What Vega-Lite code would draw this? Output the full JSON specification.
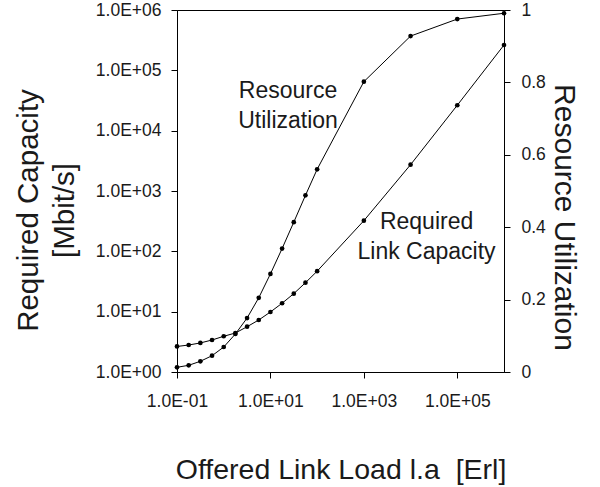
{
  "$schema": "https://vega.github.io/schema/vega-lite/v6.json",
  "width": 327,
  "height": 362,
  "autosize": {"type": "none"},
  "padding": {"left": 177, "top": 10, "right": 96, "bottom": 115},
  "background": "white",
  "config": {
    "view": {"stroke": "black", "strokeWidth": 1},
    "font": "Liberation Sans",
    "axis": {
      "grid": false,
      "domainColor": "black",
      "tickColor": "black",
      "labelColor": "#1a1a1a",
      "titleColor": "#1a1a1a",
      "labelFont": "Liberation Sans",
      "titleFont": "Liberation Sans",
      "labelFontSize": 17.5,
      "titleFontSize": 28.5,
      "titleFontWeight": "normal",
      "domainWidth": 1,
      "tickWidth": 1,
      "tickSize": 6,
      "labelOverlap": false,
      "labelFlush": false
    }
  },
  "datasets": {
    "cap": [
      {"load": 0.1, "capacity": 2.65},
      {"load": 0.1778, "capacity": 2.8},
      {"load": 0.3162, "capacity": 3.03},
      {"load": 0.5623, "capacity": 3.39},
      {"load": 1, "capacity": 3.91},
      {"load": 1.778, "capacity": 4.43},
      {"load": 3.162, "capacity": 5.63},
      {"load": 5.623, "capacity": 7.28},
      {"load": 10, "capacity": 9.88},
      {"load": 17.78, "capacity": 13.8},
      {"load": 31.62, "capacity": 19.9},
      {"load": 56.23, "capacity": 30.2},
      {"load": 100, "capacity": 46.9},
      {"load": 1000, "capacity": 322},
      {"load": 10000, "capacity": 2730},
      {"load": 100000, "capacity": 26400},
      {"load": 1000000, "capacity": 263000}
    ],
    "util": [
      {"load": 0.1, "utilization": 0.013},
      {"load": 0.1778, "utilization": 0.0185},
      {"load": 0.3162, "utilization": 0.0296},
      {"load": 0.5623, "utilization": 0.045},
      {"load": 1, "utilization": 0.069},
      {"load": 1.778, "utilization": 0.105},
      {"load": 3.162, "utilization": 0.149},
      {"load": 5.623, "utilization": 0.205},
      {"load": 10, "utilization": 0.271},
      {"load": 17.78, "utilization": 0.341},
      {"load": 31.62, "utilization": 0.414},
      {"load": 56.23, "utilization": 0.488},
      {"load": 100, "utilization": 0.56},
      {"load": 1000, "utilization": 0.802},
      {"load": 10000, "utilization": 0.928},
      {"load": 100000, "utilization": 0.975},
      {"load": 1000000, "utilization": 0.991}
    ],
    "labels": [
      {"load": 23.8, "utilization": 0.757, "label": "Resource\nUtilization"},
      {"load": 22000, "utilization": 0.395, "label": "Required\nLink Capacity"}
    ]
  },
  "layer": [
    {
      "data": {"name": "cap"},
      "mark": {"type": "line", "color": "black", "strokeWidth": 1, "point": {"filled": true, "size": 22, "color": "black"}},
      "encoding": {
        "x": {
          "field": "load", "type": "quantitative",
          "scale": {"type": "log", "domain": [0.1, 1000000], "nice": false},
          "axis": {
            "values": [0.1, 10, 1000, 100000],
            "labelExpr": "'1.0E' + (datum.value < 1 ? '-' : '+') + '0' + abs(round(log(datum.value) / LN10))",
            "labelPadding": 14,
            "title": "Offered Link Load l.a\u00a0 [Erl]",
            "titleY": 106,
            "titleBaseline": "alphabetic"
          }
        },
        "y": {
          "field": "capacity", "type": "quantitative",
          "scale": {"type": "log", "domain": [1, 1000000], "nice": false},
          "axis": {
            "orient": "left",
            "values": [1, 10, 100, 1000, 10000, 100000, 1000000],
            "labelExpr": "'1.0E+0' + round(log(datum.value) / LN10)",
            "labelPadding": 10,
            "title": ["Required Capacity", "[Mbit/s]"],
            "titleFontSize": 29.5,
            "titleAngle": -90,
            "titleX": -163,
            "titleY": 200,
            "titleBaseline": "top",
            "titleAlign": "center",
            "titleLineHeight": 36
          }
        }
      }
    },
    {
      "data": {"name": "util"},
      "mark": {"type": "line", "color": "black", "strokeWidth": 1, "point": {"filled": true, "size": 22, "color": "black"}},
      "encoding": {
        "x": {"field": "load", "type": "quantitative"},
        "y": {
          "field": "utilization", "type": "quantitative",
          "scale": {"type": "linear", "domain": [0, 1], "nice": false},
          "axis": {
            "orient": "right",
            "values": [0, 0.2, 0.4, 0.6, 0.8, 1],
            "format": "~g",
            "labelPadding": 11,
            "title": "Resource Utilization",
            "titleFontSize": 30,
            "titleAngle": 90,
            "titleX": 74,
            "titleY": 207,
            "titleBaseline": "top",
            "titleAlign": "center"
          }
        }
      }
    },
    {
      "data": {"name": "labels"},
      "mark": {"type": "text", "font": "Liberation Sans", "fontSize": 23, "color": "#1a1a1a", "align": "center", "baseline": "alphabetic", "lineBreak": "\n", "lineHeight": 30},
      "encoding": {
        "x": {"field": "load", "type": "quantitative"},
        "y": {
          "field": "utilization", "type": "quantitative",
          "scale": {"type": "linear", "domain": [0, 1], "nice": false},
          "axis": null
        },
        "text": {"field": "label"}
      }
    }
  ],
  "resolve": {"scale": {"y": "independent"}, "axis": {"y": "independent"}}
}
